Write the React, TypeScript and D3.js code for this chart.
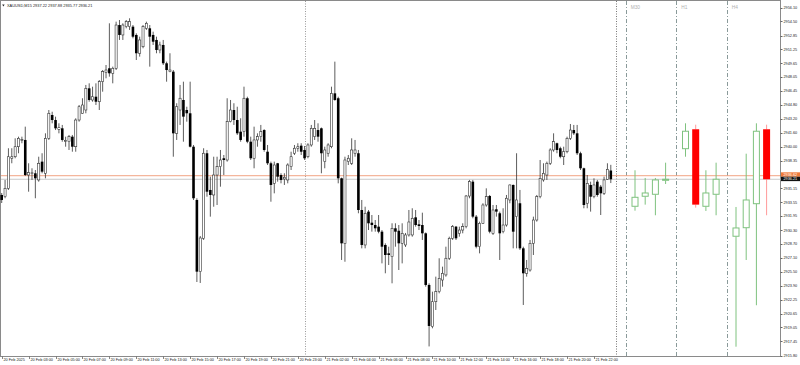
import React from 'react';
import * as d3 from 'd3';

const titleText = 'XAUUSD,M15  2937.22 2937.88 2935.77 2936.21';

const opens = [
  2934.39, 2934.19, 2935.16, 2938.64, 2938.82, 2939.98, 2940.76, 2940.76, 2936.70, 2936.90,
  2936.90, 2936.13, 2938.25, 2936.90, 2940.95, 2943.65, 2943.07, 2941.99, 2942.11, 2940.60,
  2940.56, 2941.14, 2939.98, 2943.07, 2943.85, 2944.23, 2946.74, 2945.39, 2945.77, 2945.19,
  2947.51, 2948.60, 2949.06, 2948.48, 2949.06, 2954.07, 2952.92, 2953.88, 2953.88, 2953.88,
  2952.92, 2950.80, 2951.56, 2953.69, 2953.69, 2952.92, 2952.34, 2951.18, 2951.76, 2949.64,
  2948.67, 2948.67, 2941.53, 2944.23, 2945.39, 2944.23, 2943.85, 2939.98, 2933.81, 2925.51,
  2929.37, 2939.22, 2934.97, 2934.39, 2936.70, 2937.67, 2938.64, 2938.44, 2942.88, 2944.23,
  2943.07, 2941.72, 2941.72, 2945.59, 2940.56, 2938.64, 2940.76, 2941.14, 2941.91, 2939.40,
  2938.06, 2935.74, 2938.06, 2936.70, 2936.24, 2936.13, 2937.67, 2939.22, 2939.80, 2940.10,
  2939.60, 2938.82, 2940.18, 2941.14, 2941.91, 2942.11, 2938.25, 2939.22, 2939.98, 2946.16,
  2945.59, 2936.32, 2928.79, 2938.25, 2938.06, 2939.22, 2939.22, 2932.65, 2928.60, 2932.46,
  2931.18, 2930.91, 2930.72, 2930.14, 2928.60, 2927.63, 2927.25, 2930.53, 2930.25, 2928.79,
  2928.60, 2929.76, 2929.76, 2931.80, 2930.99, 2930.91, 2929.95, 2923.97, 2919.14, 2922.03,
  2923.19, 2924.54, 2925.13, 2927.06, 2929.37, 2930.72, 2929.95, 2930.33, 2930.72, 2934.27,
  2935.93, 2931.88, 2928.40, 2931.11, 2933.23, 2934.27, 2929.95, 2932.73, 2932.27, 2930.14,
  2930.91, 2933.81, 2935.55, 2931.88, 2933.43, 2928.21, 2925.32, 2925.70, 2928.79, 2931.49,
  2934.19, 2936.13, 2936.70, 2938.06, 2939.60, 2940.38, 2939.80, 2938.82, 2939.40, 2940.95,
  2941.91, 2941.53, 2939.22, 2937.48, 2933.43, 2935.55, 2934.19, 2935.93, 2935.35, 2934.58,
  2936.20, 2937.22,
];
const highs = [
  2934.62, 2936.13, 2939.80, 2939.80, 2940.95, 2941.14, 2941.14, 2942.30, 2938.06, 2937.48,
  2937.28, 2938.82, 2939.22, 2941.53, 2944.23, 2944.03, 2943.46, 2942.69, 2942.50, 2941.14,
  2941.34, 2941.34, 2943.27, 2944.81, 2945.59, 2947.13, 2947.32, 2946.93, 2947.32, 2947.70,
  2948.86, 2949.44, 2954.27, 2949.25, 2954.46, 2954.65, 2954.27, 2954.65, 2954.85, 2954.07,
  2953.11, 2952.72, 2954.07, 2954.46, 2954.07, 2953.30, 2952.72, 2952.14, 2952.34, 2949.83,
  2950.80, 2948.86, 2945.01, 2947.13, 2947.51, 2944.61, 2947.51, 2940.18, 2934.01, 2929.64,
  2939.80, 2939.60, 2936.51, 2938.82, 2938.82, 2939.60, 2939.02, 2945.59, 2945.39, 2945.01,
  2944.61, 2943.27, 2946.93, 2945.77, 2941.14, 2942.30, 2941.53, 2942.50, 2942.00, 2940.18,
  2938.25, 2938.25, 2938.10, 2936.90, 2936.90, 2938.06, 2939.40, 2940.18, 2940.38, 2940.38,
  2940.06, 2940.38, 2942.50, 2943.07, 2942.69, 2942.20, 2939.98, 2940.38, 2946.93, 2949.83,
  2945.77, 2936.40, 2938.82, 2939.02, 2940.95, 2940.76, 2939.60, 2933.81, 2933.03, 2932.65,
  2932.07, 2931.49, 2932.07, 2930.33, 2928.79, 2928.40, 2931.11, 2931.11, 2930.91, 2931.11,
  2929.99, 2932.65, 2932.85, 2932.65, 2931.49, 2932.34, 2930.05, 2924.16, 2923.19, 2924.93,
  2927.06, 2926.09, 2928.40, 2929.56, 2930.91, 2930.80, 2930.72, 2931.11, 2934.39, 2936.13,
  2936.13, 2932.07, 2931.30, 2933.43, 2935.16, 2934.39, 2933.23, 2933.23, 2932.46, 2932.85,
  2934.39, 2935.60, 2935.60, 2939.22, 2934.97, 2928.40, 2926.86, 2929.18, 2931.88, 2934.39,
  2938.44, 2938.06, 2938.25, 2939.80, 2941.53, 2940.45, 2939.98, 2939.98, 2941.14, 2942.61,
  2942.50, 2942.50, 2939.40, 2937.55, 2936.70, 2935.93, 2936.32, 2936.13, 2935.55, 2936.51,
  2938.06, 2937.88,
];
const lows = [
  2933.46, 2934.01, 2934.97, 2938.06, 2938.64, 2939.22, 2940.38, 2936.59, 2934.77, 2936.13,
  2934.01, 2935.93, 2936.90, 2936.32, 2940.76, 2942.69, 2941.91, 2941.53, 2940.56, 2939.98,
  2939.60, 2939.40, 2939.40, 2942.88, 2943.80, 2943.85, 2945.19, 2945.19, 2944.81, 2944.23,
  2946.35, 2947.90, 2948.09, 2947.32, 2948.86, 2952.34, 2952.34, 2953.69, 2953.50, 2952.53,
  2950.02, 2950.41, 2951.38, 2953.50, 2949.25, 2951.76, 2950.80, 2950.80, 2949.44, 2947.51,
  2948.60, 2938.82, 2940.76, 2942.50, 2940.56, 2942.88, 2939.90, 2933.81, 2924.31, 2924.20,
  2929.18, 2934.19, 2931.88, 2933.03, 2933.23, 2935.35, 2936.70, 2938.25, 2942.80, 2942.50,
  2941.34, 2940.56, 2941.14, 2940.38, 2938.44, 2937.48, 2939.98, 2940.56, 2939.40, 2937.86,
  2933.61, 2934.58, 2935.93, 2935.74, 2935.55, 2935.74, 2937.28, 2939.02, 2939.40, 2939.02,
  2938.44, 2938.64, 2939.98, 2940.76, 2940.56, 2936.90, 2937.48, 2938.82, 2939.80, 2945.30,
  2935.74, 2926.86, 2926.66, 2937.86, 2937.86, 2938.82, 2932.27, 2928.21, 2928.21, 2930.33,
  2930.14, 2930.14, 2929.95, 2926.47, 2925.32, 2926.28, 2924.16, 2928.40, 2925.70, 2926.47,
  2928.37, 2929.57, 2929.56, 2930.72, 2930.33, 2929.18, 2923.77, 2916.85, 2918.95, 2921.07,
  2923.00, 2923.77, 2924.93, 2926.86, 2929.18, 2929.18, 2929.56, 2929.95, 2930.53, 2934.01,
  2931.69, 2928.21, 2927.63, 2931.05, 2933.03, 2929.95, 2929.76, 2931.88, 2926.86, 2929.95,
  2930.72, 2933.43, 2928.21, 2928.21, 2928.02, 2921.65, 2924.93, 2925.51, 2927.44, 2931.30,
  2934.01, 2935.93, 2936.13, 2937.86, 2939.40, 2939.22, 2938.64, 2937.86, 2939.22, 2940.76,
  2941.34, 2939.02, 2937.28, 2932.85, 2932.85, 2932.46, 2934.01, 2934.19, 2932.07, 2934.39,
  2936.13, 2935.77,
];
const closes = [
  2933.81, 2935.16, 2938.82, 2938.82, 2939.98, 2940.95, 2940.80, 2936.70, 2936.97, 2936.95,
  2936.32, 2938.06, 2937.09, 2940.95, 2943.85, 2943.07, 2942.11, 2942.18, 2940.76, 2940.70,
  2941.14, 2939.98, 2943.07, 2944.61, 2944.81, 2946.74, 2945.39, 2945.77, 2945.19, 2947.51,
  2948.67, 2948.86, 2948.48, 2949.06, 2954.07, 2952.92, 2954.07, 2954.46, 2954.46, 2952.72,
  2950.80, 2952.34, 2953.88, 2954.27, 2952.72, 2952.14, 2951.18, 2951.76, 2949.64, 2948.86,
  2948.86, 2941.53, 2944.61, 2945.59, 2943.46, 2943.85, 2939.98, 2934.01, 2925.51, 2929.41,
  2939.22, 2934.77, 2934.39, 2936.70, 2937.67, 2938.44, 2938.44, 2942.88, 2944.23, 2943.07,
  2941.53, 2940.76, 2945.59, 2940.56, 2938.64, 2940.76, 2941.14, 2941.72, 2939.60, 2938.06,
  2935.55, 2937.86, 2936.51, 2936.13, 2936.44, 2937.86, 2938.82, 2939.80, 2939.98, 2939.40,
  2938.64, 2940.18, 2942.11, 2942.11, 2941.14, 2939.22, 2939.60, 2940.18, 2946.16, 2945.39,
  2936.32, 2928.79, 2938.44, 2938.64, 2939.60, 2939.60, 2932.65, 2928.60, 2932.27, 2931.11,
  2930.91, 2930.53, 2930.14, 2928.40, 2927.44, 2927.44, 2930.53, 2930.14, 2928.79, 2929.95,
  2929.76, 2931.26, 2931.69, 2930.91, 2930.80, 2929.95, 2923.97, 2919.22, 2922.03, 2923.19,
  2924.74, 2925.32, 2927.06, 2929.37, 2930.72, 2929.37, 2930.33, 2930.72, 2934.27, 2935.93,
  2931.88, 2928.40, 2931.11, 2933.23, 2934.19, 2930.14, 2932.65, 2932.46, 2929.95, 2930.91,
  2934.01, 2935.55, 2930.14, 2933.81, 2928.21, 2925.32, 2925.90, 2928.79, 2931.49, 2934.19,
  2936.32, 2936.90, 2938.06, 2939.60, 2940.56, 2939.60, 2938.82, 2939.40, 2940.95, 2941.91,
  2941.53, 2939.22, 2937.48, 2933.23, 2935.74, 2934.19, 2935.55, 2934.39, 2934.58, 2936.13,
  2937.36, 2936.21,
];

const timeLabels = [
  '20 Feb 2025', '20 Feb 03:00', '20 Feb 05:00', '20 Feb 07:00', '20 Feb 09:00', '20 Feb 11:00',
  '20 Feb 13:00', '20 Feb 15:00', '20 Feb 17:00', '20 Feb 19:00', '20 Feb 21:00', '20 Feb 23:00',
  '21 Feb 02:00', '21 Feb 04:00', '21 Feb 06:00', '21 Feb 08:00', '21 Feb 10:00', '21 Feb 12:00',
  '21 Feb 14:00', '21 Feb 16:00', '21 Feb 18:00', '21 Feb 20:00', '21 Feb 22:00',
];
const barsPerLabel = 8;
const daySeparatorBar = 90;

const priceTicks = [
  2956.10, 2954.50, 2952.85, 2951.25, 2949.65, 2948.05, 2946.45, 2944.80, 2943.20, 2941.60,
  2940.00, 2938.35, 2936.75, 2935.15, 2933.55, 2931.95, 2930.30, 2928.70, 2927.10, 2925.50,
  2923.90, 2922.25, 2920.65, 2919.05, 2917.45, 2915.80,
];

const bidPrice = 2936.21;
const askPrice = 2936.62;

// Higher timeframe panels: [open, high, low, close]
const tfNames = ['M30', 'H1', 'H4'];
const m30Bars = [
  [2933.08, 2937.25, 2932.57, 2934.12],
  [2934.24, 2936.36, 2933.27, 2934.62],
  [2934.47, 2936.36, 2932.04, 2936.13],
  [2936.09, 2938.13, 2935.66, 2936.21],
];
const h1Bars = [
  [2939.75, 2942.69, 2938.82, 2941.77],
  [2942.00, 2942.53, 2932.92, 2933.27],
  [2933.08, 2937.25, 2932.54, 2934.62],
  [2934.47, 2938.13, 2932.04, 2936.21],
];
const h4Bars = [
  [2929.61, 2933.00, 2916.82, 2930.57],
  [2930.60, 2939.17, 2926.86, 2933.81],
  [2933.38, 2942.69, 2921.62, 2941.77],
  [2942.00, 2942.53, 2932.04, 2936.21],
];
const tfBars = [m30Bars, h1Bars, h4Bars];

const W = 800;
const H = 365;
const RIGHT = 780.5;
const BOTTOM = 356.5;
const FONT = 'Liberation Sans, Arial, sans-serif';

export default function App() {
  const n = opens.length;
  const x = d3.scaleLinear().domain([0, n - 1]).range([1.7, 610.8]);
  const y = d3.scaleLinear().domain([2915.80, 2956.10]).range([355.5, 7.5]);
  const sectionX = d3.scaleLinear().domain([0, 1]).range([625.7, 676.2]);
  const slotX = d3.scaleLinear().domain([0, 1]).range([9.3, 19.5]);

  const crisp = (v: number) => Math.round(v) + 0.5;

  const candles = opens.map((o, i) => {
    const c = closes[i];
    const hi = highs[i];
    const lo = lows[i];
    const cx = x(i);
    const bull = c >= o;
    const top = y(Math.max(o, c));
    const bot = y(Math.min(o, c));
    const h = Math.max(bot - top, 0.8);
    return (
      <g key={i}>
        <line x1={cx} x2={cx} y1={y(hi)} y2={y(lo)} stroke="#333" strokeWidth={0.8} />
        {bull ? (
          <rect x={cx - 1.05} y={top} width={2.1} height={h} fill="#fff" stroke="#333" strokeWidth={0.6} />
        ) : (
          <rect x={cx - 1.3} y={top} width={2.6} height={h} fill="#000" />
        )}
      </g>
    );
  });

  const tfGreen = '#7fc27f';
  const tfCandles = tfBars.map((bars, s) =>
    bars.map(([o, hi, lo, c], k) => {
      const cx = sectionX(s) + slotX(k);
      const bull = c >= o;
      const top = y(Math.max(o, c));
      const bot = y(Math.min(o, c));
      const h = Math.max(bot - top, 1);
      return (
        <g key={`${s}-${k}`}>
          <line x1={cx} x2={cx} y1={y(hi)} y2={top} stroke={bull ? tfGreen : '#ff9a9a'} strokeWidth={1} />
          <line x1={cx} x2={cx} y1={bot} y2={y(lo)} stroke={bull ? tfGreen : '#ff9a9a'} strokeWidth={1} />
          {bull ? (
            <rect x={cx - 3} y={top} width={6} height={h} fill="#fff" stroke={tfGreen} strokeWidth={1} />
          ) : (
            <rect x={cx - 3.5} y={top} width={7} height={h} fill="#ff0000" />
          )}
        </g>
      );
    })
  );

  const askY = y(askPrice);
  const bidY = y(bidPrice);

  return (
    <svg width={W} height={H} style={{ position: 'fixed', left: 0, top: 0, background: '#fff' }}>
      <rect x={0} y={0} width={W} height={H} fill="#fff" />
      {/* frame */}
      <rect x={0.5} y={0.5} width={RIGHT - 0.5} height={BOTTOM - 0.5} fill="none" stroke="#8a8a8a" strokeWidth={1} />

      {/* day separator */}
      <line x1={crisp(x(daySeparatorBar))} x2={crisp(x(daySeparatorBar))} y1={1} y2={BOTTOM} stroke="#9a9a9a" strokeWidth={1} strokeDasharray="1,1.5" />
      {/* current bar marker */}
      <line x1={crisp(x(n + 0.4))} x2={crisp(x(n + 0.4))} y1={1} y2={BOTTOM} stroke="#777" strokeWidth={1} strokeDasharray="1,1.5" />
      {/* timeframe separators */}
      {tfNames.map((name, s) => (
        <g key={name}>
          <line x1={crisp(sectionX(s))} x2={crisp(sectionX(s))} y1={1} y2={BOTTOM} stroke="#8a9a9a" strokeWidth={1} strokeDasharray="4,2,1,2" />
          <text x={sectionX(s) + 5} y={9} fontSize={4.8} fill="#b0b0b0" fontFamily={FONT}>{name}</text>
        </g>
      ))}

      {/* bid / ask lines */}
      <line x1={1} x2={RIGHT} y1={askY} y2={askY} stroke="#f2a483" strokeWidth={1} />
      <line x1={1} x2={RIGHT} y1={bidY} y2={bidY} stroke="#c9c9c9" strokeWidth={1} />

      {candles}
      {tfCandles}

      {/* price axis */}
      {priceTicks.map((p) => (
        <g key={p}>
          <line x1={RIGHT} x2={RIGHT + 2} y1={crisp(y(p))} y2={crisp(y(p))} stroke="#666" strokeWidth={1} />
          <text x={783.5} y={y(p)} dy="0.35em" fontSize={3.8} fill="#222" fontFamily={FONT}>{p.toFixed(2)}</text>
        </g>
      ))}
      {/* price tags */}
      <rect x={781} y={askY - 3.4} width={19} height={4.4} fill="#f07a3a" />
      <text x={783.5} y={askY - 1.2} dy="0.35em" fontSize={3.8} fill="#fff" fontFamily={FONT}>{askPrice.toFixed(2)}</text>
      <rect x={781} y={askY + 1} width={19} height={4.4} fill="#111" />
      <text x={783.5} y={askY + 3.2} dy="0.35em" fontSize={3.8} fill="#fff" fontFamily={FONT}>{bidPrice.toFixed(2)}</text>

      {/* time axis */}
      {timeLabels.map((t, i) => {
        const tx = crisp(x(i * barsPerLabel));
        return (
          <g key={t}>
            <line x1={tx} x2={tx} y1={BOTTOM} y2={BOTTOM + 2.5} stroke="#666" strokeWidth={0.8} />
            <text x={tx + 1} y={361.3} fontSize={3.8} fill="#222" fontFamily={FONT}>{t}</text>
          </g>
        );
      })}

      {/* title */}
      <path d="M2.2,4.6 L4.6,4.6 L3.4,6.6 Z" fill="#222" />
      <text x={7} y={7.3} fontSize={3.9} fill="#222" fontFamily={FONT}>{titleText}</text>
    </svg>
  );
}
